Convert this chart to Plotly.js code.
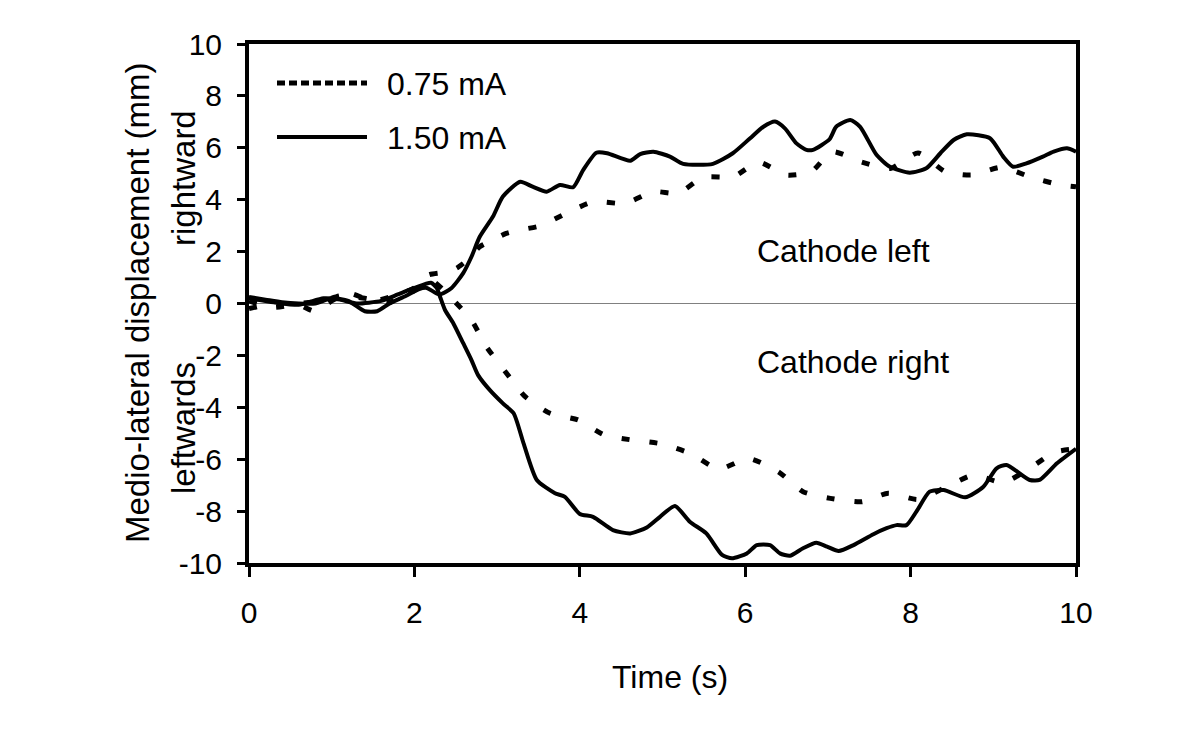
<!DOCTYPE html>
<html>
<head>
<meta charset="utf-8">
<script src="https://cdn.plot.ly/plotly-3.0.1.min.js"></script>
<style>html,body{margin:0;padding:0;background:#fff;}#chart{width:1200px;height:738px;}</style>
</head>
<body>
<div id="chart"></div>
<script>
// Time (s) and displacement (mm)
const tHighLeft = [0, 0.2, 0.4, 0.6, 0.8, 1.0, 1.2, 1.4, 1.55, 1.7, 1.9, 2.05, 2.15, 2.3, 2.45, 2.59, 2.69, 2.79, 2.95, 3.07, 3.28, 3.43, 3.60, 3.76, 3.92, 4.04, 4.20, 4.33, 4.61, 4.73, 4.89, 5.09, 5.25, 5.61, 5.85, 6.06, 6.22, 6.36, 6.48, 6.62, 6.74, 6.82, 7.02, 7.10, 7.27, 7.39, 7.59, 7.75, 7.99, 8.19, 8.36, 8.52, 8.68, 8.96, 9.12, 9.24, 9.40, 9.60, 9.73, 9.89, 10.0];
const yHighLeft = [0.25, 0.15, 0.05, 0.0, 0.0, 0.2, 0.1, -0.3, -0.3, 0.0, 0.3, 0.55, 0.6, 0.35, 0.6, 1.17, 1.80, 2.57, 3.35, 4.12, 4.69, 4.50, 4.31, 4.57, 4.48, 5.14, 5.81, 5.79, 5.50, 5.76, 5.85, 5.66, 5.38, 5.38, 5.79, 6.37, 6.81, 7.01, 6.75, 6.17, 5.92, 5.92, 6.33, 6.81, 7.07, 6.81, 5.72, 5.27, 5.04, 5.21, 5.79, 6.30, 6.52, 6.37, 5.66, 5.27, 5.40, 5.66, 5.85, 5.98, 5.85];

const tHighRight = [0, 0.3, 0.6, 0.9, 1.1, 1.3, 1.6, 1.8, 2.0, 2.2, 2.27, 2.31, 2.37, 2.47, 2.59, 2.69, 2.77, 2.91, 3.07, 3.20, 3.32, 3.48, 3.70, 3.82, 4.00, 4.16, 4.40, 4.61, 4.81, 4.97, 5.15, 5.33, 5.53, 5.72, 5.84, 6.02, 6.14, 6.30, 6.42, 6.54, 6.70, 6.86, 6.99, 7.13, 7.31, 7.55, 7.71, 7.83, 7.95, 8.07, 8.23, 8.40, 8.66, 8.88, 9.04, 9.16, 9.44, 9.56, 9.77, 10.0];
const yHighRight = [0.2, 0.05, -0.05, 0.2, 0.15, 0.0, 0.1, 0.35, 0.6, 0.8, 0.6, 0.26, -0.25, -0.76, -1.53, -2.18, -2.76, -3.33, -3.85, -4.23, -5.39, -6.80, -7.31, -7.45, -8.11, -8.22, -8.73, -8.86, -8.63, -8.22, -7.80, -8.41, -8.86, -9.69, -9.82, -9.63, -9.31, -9.31, -9.63, -9.72, -9.43, -9.22, -9.37, -9.54, -9.31, -8.89, -8.66, -8.54, -8.54, -8.02, -7.25, -7.19, -7.47, -7.06, -6.35, -6.22, -6.80, -6.80, -6.16, -5.6];

const tLowLeft = [0, 0.3, 0.6, 0.8, 1.0, 1.2, 1.5, 1.8, 2.0, 2.17, 2.35, 2.51, 2.65, 2.79, 2.95, 3.11, 3.3, 3.52, 3.84, 4.16, 4.55, 4.89, 5.19, 5.49, 5.86, 6.16, 6.50, 6.80, 7.05, 7.41, 7.75, 8.09, 8.42, 8.74, 9.10, 9.46, 9.81, 10.0];
const yLowLeft = [-0.2, 0.0, -0.05, -0.3, 0.1, 0.4, 0.1, 0.35, 0.6, 1.1, 1.2, 1.36, 1.7, 2.19, 2.45, 2.70, 2.85, 2.99, 3.48, 3.92, 3.86, 4.31, 4.25, 4.86, 4.89, 5.45, 4.95, 5.08, 5.85, 5.45, 5.20, 5.80, 5.08, 4.95, 5.25, 4.86, 4.57, 4.5];

const tLowRight = [0, 0.3, 0.6, 0.9, 1.1, 1.4, 1.7, 2.0, 2.2, 2.43, 2.69, 2.87, 3.10, 3.34, 3.64, 3.98, 4.30, 4.63, 4.99, 5.35, 5.68, 6.04, 6.40, 6.70, 7.03, 7.41, 7.73, 8.09, 8.44, 8.76, 9.12, 9.44, 9.74, 10.0];
const yLowRight = [0.1, -0.15, 0.0, 0.1, 0.3, 0.2, 0.05, 0.5, 0.9, 0.26, -0.64, -1.66, -2.63, -3.59, -4.23, -4.49, -5.07, -5.26, -5.41, -5.80, -6.38, -5.97, -6.48, -7.25, -7.51, -7.64, -7.31, -7.55, -7.06, -6.61, -6.90, -6.35, -5.73, -5.6];

const seriesNames = ["0.75 mA", "1.50 mA"];
const xTicks = [0, 2, 4, 6, 8, 10];
const yTicks = [-10, -8, -6, -4, -2, 0, 2, 4, 6, 8, 10];
const xTitle = "Time (s)";
const yTitle = "Medio-lateral displacement (mm)";
const yUpper = "rightward";
const yLower = "leftwards";
const regionLabels = ["Cathode left", "Cathode right"];

const FONT = "Liberation Sans, Arial, sans-serif";
const FS_TICK = 30;
const FS = 32;
const dotted = {color: "#000", width: 5, dash: "8px,20px"};
const solid = {color: "#000", width: 4};

const traces = [
  {x: tLowLeft, y: yLowLeft, mode: "lines", line: Object.assign({shape: "spline", smoothing: 0.6}, dotted), name: seriesNames[0], showlegend: false},
  {x: tLowRight, y: yLowRight, mode: "lines", line: Object.assign({shape: "spline", smoothing: 0.6}, dotted), name: seriesNames[0], showlegend: false},
  {x: tHighLeft, y: yHighLeft, mode: "lines", line: Object.assign({shape: "spline", smoothing: 0.6}, solid), name: seriesNames[1], showlegend: false},
  {x: tHighRight, y: yHighRight, mode: "lines", line: Object.assign({shape: "spline", smoothing: 0.6}, solid), name: seriesNames[1], showlegend: false}
];

const L = 249, R = 1076, T = 44, B = 563;
const W = R - L, H = B - T;
const px = v => (v - L) / W;
const py = v => (B - v) / H;

const layout = {
  width: 1200, height: 738,
  margin: {l: L, r: 1200 - R, t: T, b: 738 - B, pad: 0},
  paper_bgcolor: "#fff", plot_bgcolor: "#fff",
  font: {family: FONT, size: FS, color: "#000"},
  showlegend: false,
  xaxis: {
    range: [0, 10], tickvals: xTicks, ticktext: xTicks.map(String),
    ticks: "outside", ticklen: 10, tickwidth: 3, tickcolor: "#000",
    showline: true, linewidth: 4, linecolor: "#000", mirror: true,
    showgrid: false, zeroline: false, ticklabelstandoff: 10,
    tickfont: {family: FONT, size: FS_TICK, color: "#000"}
  },
  yaxis: {
    range: [-10, 10], tickvals: yTicks, ticktext: yTicks.map(String),
    ticks: "outside", ticklen: 8, tickwidth: 3, tickcolor: "#000",
    showline: true, linewidth: 4, linecolor: "#000", mirror: true,
    showgrid: false, zeroline: true, zerolinecolor: "#808080", zerolinewidth: 1,
    ticklabelstandoff: 9,
    tickfont: {family: FONT, size: FS_TICK, color: "#000"}
  },
  shapes: [
    {type: "line", xref: "paper", yref: "paper", x0: px(277), x1: px(367), y0: py(83), y1: py(83), line: {color: "#000", width: 5, dash: "8px,4px"}},
    {type: "line", xref: "paper", yref: "paper", x0: px(277), x1: px(367), y0: py(137), y1: py(137), line: {color: "#000", width: 4}}
  ],
  annotations: [
    {text: seriesNames[0], xref: "paper", yref: "paper", x: px(385), y: py(84), xanchor: "left", yanchor: "middle", showarrow: false, font: {family: FONT, size: FS}},
    {text: seriesNames[1], xref: "paper", yref: "paper", x: px(385), y: py(138), xanchor: "left", yanchor: "middle", showarrow: false, font: {family: FONT, size: FS}},
    {text: regionLabels[0], xref: "paper", yref: "paper", x: px(843), y: py(251), xanchor: "center", yanchor: "middle", showarrow: false, font: {family: FONT, size: FS}},
    {text: regionLabels[1], xref: "paper", yref: "paper", x: px(853), y: py(362), xanchor: "center", yanchor: "middle", showarrow: false, font: {family: FONT, size: FS}},
    {text: xTitle, xref: "paper", yref: "paper", x: px(670), y: py(677), xanchor: "center", yanchor: "middle", showarrow: false, font: {family: FONT, size: FS}},
    {text: yTitle, xref: "paper", yref: "paper", x: px(137), y: py(303), xanchor: "center", yanchor: "middle", textangle: -90, showarrow: false, font: {family: FONT, size: 33}},
    {text: yUpper, xref: "paper", yref: "paper", x: px(183), y: py(178), xanchor: "center", yanchor: "middle", textangle: -90, showarrow: false, font: {family: FONT, size: 33}},
    {text: yLower, xref: "paper", yref: "paper", x: px(183), y: py(428), xanchor: "center", yanchor: "middle", textangle: -90, showarrow: false, font: {family: FONT, size: 33}}
  ]
};

Plotly.newPlot("chart", traces, layout, {displayModeBar: false, staticPlot: true});
</script>
</body>
</html>
